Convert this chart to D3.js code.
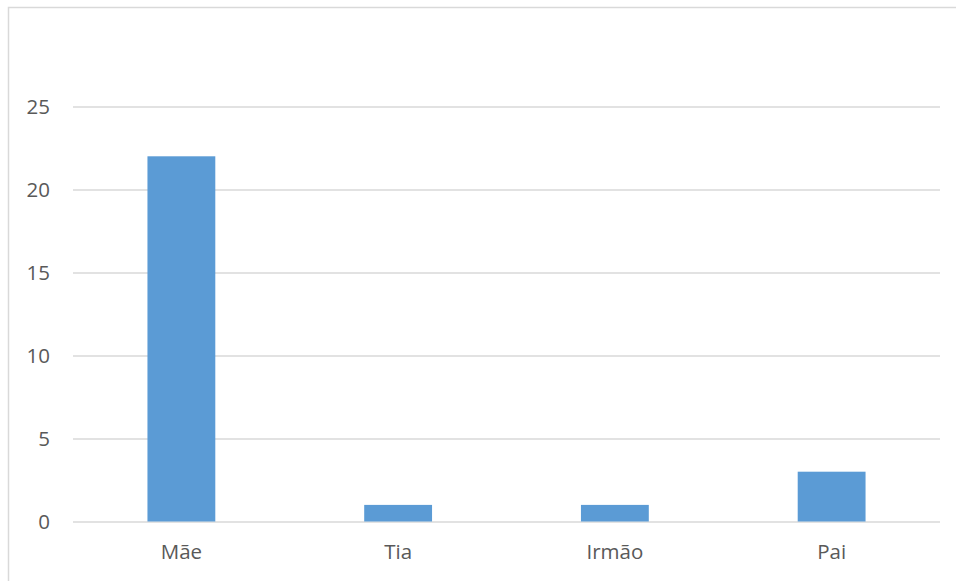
<!DOCTYPE html>
<html>
<head>
<meta charset="utf-8">
<script src="https://cdn.jsdelivr.net/npm/d3@7"></script>
<style>
  body { margin: 0; background: #fff; }
  svg { display: block; }
</style>
</head>
<body>
<div id="chart"></div>
<script>
"use strict";

var categories = ["Mãe", "Tia", "Irmão", "Pai"];
var values = [22, 1, 1, 3];
var yTicks = [0, 5, 10, 15, 20, 25];

var width = 956, height = 581;
var margin = { top: 106.5, right: 16, bottom: 59.5, left: 73 };

var svg = d3.select("#chart").append("svg")
    .attr("width", width)
    .attr("height", height);

// outer frame, runs off the right and bottom edges like the original
svg.append("rect")
    .attr("x", 8.5).attr("y", 7.5)
    .attr("width", width).attr("height", height)
    .attr("fill", "none")
    .attr("stroke", "#d9d9d9")
    .attr("stroke-width", 1.5);

var x = d3.scaleBand()
    .domain(categories)
    .range([margin.left, width - margin.right])
    .paddingInner(0.687)
    .paddingOuter(0.3435);

var y = d3.scaleLinear()
    .domain([0, 25])
    .range([height - margin.bottom, margin.top]);

var font = "'Open Sans', 'Noto Sans', sans-serif";

// gridlines + y labels
var yAxis = d3.axisLeft(y)
    .tickValues(yTicks)
    .tickSize(-(width - margin.right - margin.left))
    .tickPadding(23);

var gy = svg.append("g")
    .attr("transform", "translate(" + margin.left + ",0)")
    .call(yAxis);
gy.select(".domain").remove();
gy.selectAll(".tick line")
    .attr("stroke", "#d9d9d9")
    .attr("stroke-width", 1.5);
gy.selectAll(".tick text")
    .attr("fill", "#595959")
    .style("font-family", font)
    .style("font-size", "20.5px");

svg.append("g")
    .selectAll("rect")
    .data(values)
    .enter().append("rect")
    .attr("x", (d, i) => x(categories[i]))
    .attr("y", d => y(d))
    .attr("width", x.bandwidth())
    .attr("height", d => y(0) - y(d))
    .attr("fill", "#5b9bd5");

var xAxis = d3.axisBottom(x).tickSize(0).tickPadding(23);
var gx = svg.append("g")
    .attr("transform", "translate(0," + y(0) + ")")
    .call(xAxis);
gx.select(".domain").remove();
gx.selectAll(".tick text")
    .attr("fill", "#595959")
    .style("font-family", font)
    .style("font-size", "20.5px");
</script>
</body>
</html>
